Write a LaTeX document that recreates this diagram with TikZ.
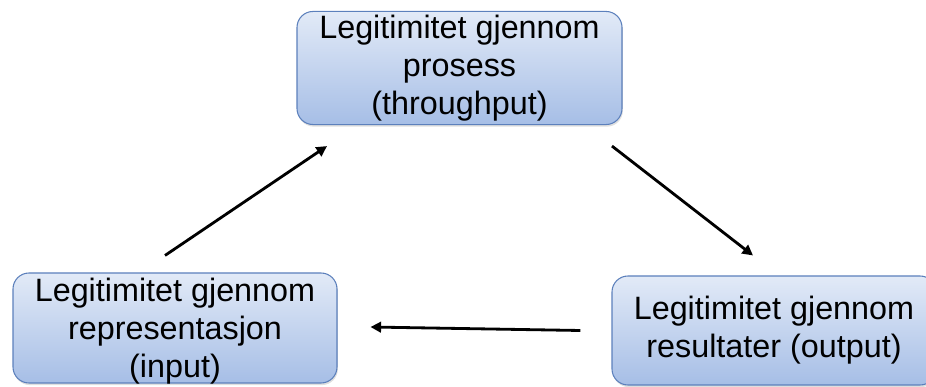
\documentclass[tikz,border=0pt]{standalone}
\usepackage{fontspec}
\setmainfont{Liberation Sans}
\usepackage{tikz}
\usetikzlibrary{arrows.meta,shadows}

\definecolor{boxtop}{RGB}{226,234,247}
\definecolor{boxbottom}{RGB}{166,190,230}
\definecolor{boxline}{RGB}{92,128,188}

\begin{document}
\begin{tikzpicture}[block/.style={shape=rectangle,rounded corners=0.32cm,draw=boxline,top color=boxtop,bottom color=boxbottom,
							semithick,inner sep=2pt,align=center,font=\fontsize{18.4}{21.6}\selectfont,
							drop shadow={opacity=0.25,shadow xshift=0.5pt,shadow yshift=-1.2pt}},
						flow/.style={->,line width=1.6pt},>={Triangle[length=6pt,width=6pt]}]
		\useasboundingbox (0,0) rectangle (18.52,-7.74);
		\begin{scope}
		\clip (0,0) rectangle (18.52,-7.74);
		\node[block,minimum width=6.5cm,minimum height=2.24cm] (proc) at (9.19,-1.36)
			{Legitimitet gjennom\\prosess\\(throughput)};
		\node[block,minimum width=6.48cm,minimum height=2.2cm,text depth=-0.1cm] (inp) at (3.5,-6.56)
			{Legitimitet gjennom\\representasjon\\(input)};
		\node[block,minimum width=6.48cm,minimum height=2.18cm] (outp) at (15.48,-6.61)
			{Legitimitet gjennom\\resultater (output)};
		\end{scope}

		\draw [flow] ([shift={(-0.2,0.34)}]inp.north) to ([shift={(-2.65,-0.42)}]proc.south);
		\draw [flow] ([shift={(3.05,-0.42)}]proc.south) to ([shift={(-0.42,0.4)}]outp.north);
		\draw [flow] ([shift={(-0.62,0)}]outp.west) to ([shift={(0.66,0.02)}]inp.east);

	\end{tikzpicture}
\end{document}
